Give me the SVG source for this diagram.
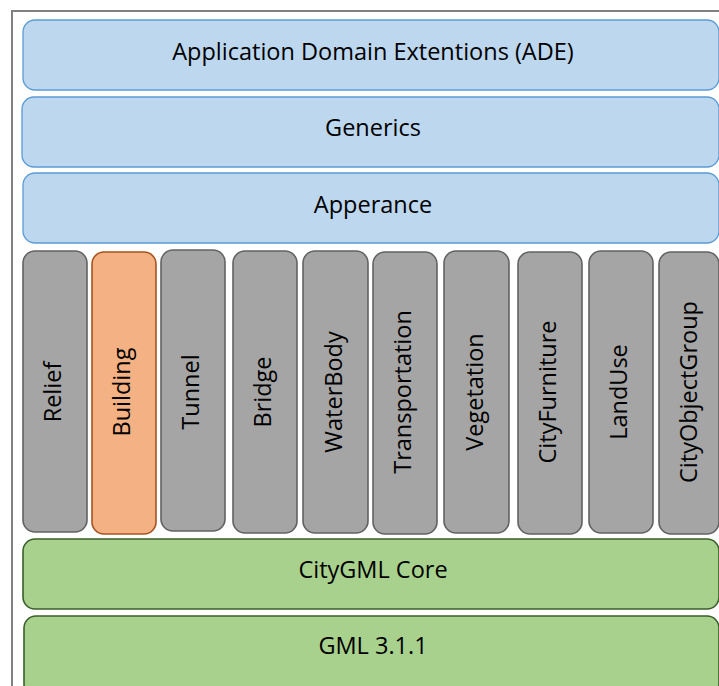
<svg xmlns="http://www.w3.org/2000/svg" width="719" height="686" viewBox="0 0 719 686">
<style>
.t{font-family:"Open Sans","Noto Sans","Liberation Sans",sans-serif;font-size:23.5px;fill:#000;text-anchor:middle;dominant-baseline:central}
.blue{fill:#BDD7EE;stroke:#5B9BD5;stroke-width:1.3}
.gray{fill:#A5A5A5;stroke:#626262;stroke-width:1.6}
.orange{fill:#F4B183;stroke:#A5541E;stroke-width:1.6}
.green{fill:#A9D18E;stroke:#3B5E2B;stroke-width:1.6}
</style>
<rect width="719" height="686" fill="#fff"/>
<rect x="12" y="11" width="740" height="700" fill="none" stroke="#808080" stroke-width="2"/>
<g id="ade"><rect class="blue" x="23" y="20" width="696" height="70" rx="12"/><text class="t" x="373" y="51">Application Domain Extentions (ADE)</text></g>
<g id="generics"><rect class="blue" x="22" y="97" width="697" height="70" rx="12"/><text class="t" x="373" y="127">Generics</text></g>
<g id="apperance"><rect class="blue" x="23" y="173" width="696" height="70" rx="12"/><text class="t" x="373" y="204">Apperance</text></g>
<g id="relief"><rect class="gray" x="23" y="251" width="64" height="281" rx="12"/><text class="t" transform="translate(52,392) rotate(-90)">Relief</text></g>
<g id="building"><rect class="orange" x="92" y="252" width="64" height="282" rx="12"/><text class="t" transform="translate(121,392) rotate(-90)">Building</text></g>
<g id="tunnel"><rect class="gray" x="161" y="250" width="64" height="281" rx="12"/><text class="t" transform="translate(190,392) rotate(-90)">Tunnel</text></g>
<g id="bridge"><rect class="gray" x="233" y="251" width="64" height="282" rx="12"/><text class="t" transform="translate(262,392) rotate(-90)">Bridge</text></g>
<g id="waterbody"><rect class="gray" x="303" y="251" width="65" height="282" rx="12"/><text class="t" transform="translate(333,392) rotate(-90)">WaterBody</text></g>
<g id="transportation"><rect class="gray" x="373" y="252" width="64" height="282" rx="12"/><text class="t" transform="translate(402,392) rotate(-90)">Transportation</text></g>
<g id="vegetation"><rect class="gray" x="444" y="251" width="65" height="282" rx="12"/><text class="t" transform="translate(474,392) rotate(-90)">Vegetation</text></g>
<g id="cityfurniture"><rect class="gray" x="518" y="252" width="64" height="282" rx="12"/><text class="t" transform="translate(547,392) rotate(-90)">CityFurniture</text></g>
<g id="landuse"><rect class="gray" x="589" y="251" width="64" height="282" rx="12"/><text class="t" transform="translate(618,392) rotate(-90)">LandUse</text></g>
<g id="cityobjectgroup"><rect class="gray" x="659" y="252" width="60" height="282" rx="12"/><text class="t" transform="translate(688,392) rotate(-90)">CityObjectGroup</text></g>
<g id="core"><rect class="green" x="23" y="539" width="696" height="70" rx="12"/><text class="t" x="373" y="569">CityGML Core</text></g>
<g id="gml"><rect class="green" x="24" y="616" width="695" height="80" rx="12"/><text class="t" x="373" y="645">GML 3.1.1</text></g>
<g id="connectors"/>
</svg>
